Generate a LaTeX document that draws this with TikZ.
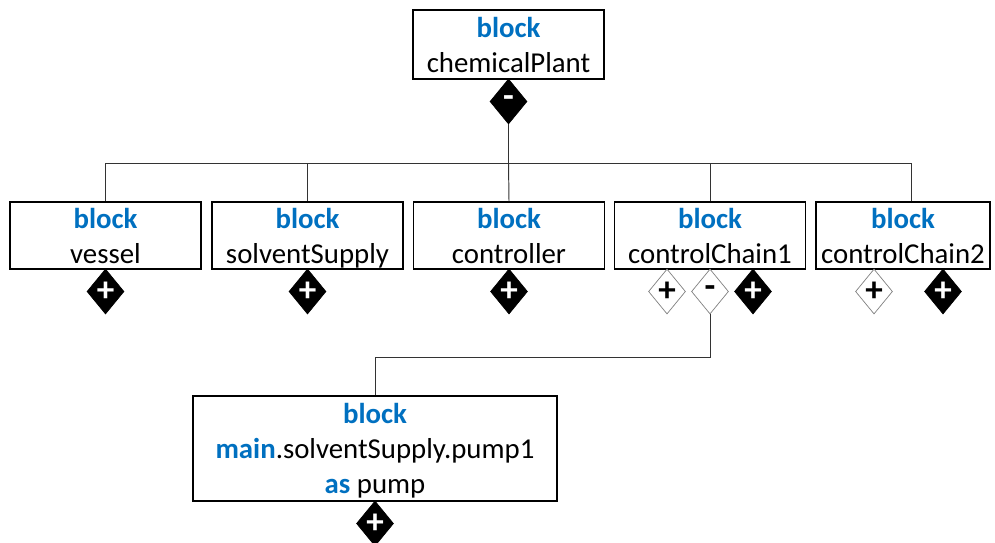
\documentclass[tikz,border=0pt]{standalone}
\usepackage{fontspec}
\setmainfont{Carlito}
\usetikzlibrary{shapes.geometric}
\definecolor{kwblue}{RGB}{0,112,192}
\newcommand{\kw}[1]{\textcolor{kwblue}{\textbf{#1}}}

\begin{document}
\begin{tikzpicture}[
    blk/.style={draw=black, line width=0.8pt, align=center, inner sep=0pt, text depth=0pt,
        font=\fontsize{16.4}{19.9}\selectfont},
    compfill/.style={diamond, draw=black, fill=black, text=white, inner sep=0pt,
        minimum width=0.74cm, minimum height=0.9cm, font=\fontsize{20}{20}\bfseries\selectfont},
    compopen/.style={diamond, draw=gray, fill=white, text=black, inner sep=0pt,
        minimum width=0.74cm, minimum height=0.9cm, font=\fontsize{20}{20}\bfseries\selectfont},
    conn/.style={draw=black!80, line width=0.55pt}]
        \useasboundingbox (0,0) rectangle (19.9,-10.84);

        \node[blk, minimum width=3.82cm, minimum height=1.38cm] (A) at (10.17,-0.89) {\kw{block}\\chemicalPlant};
        \node[blk, minimum width=3.82cm, minimum height=1.34cm] (B) at (2.11,-4.71) {\kw{block}\\vessel};
        \node[blk, minimum width=3.82cm, minimum height=1.34cm] (C) at (6.15,-4.71) {\kw{block}\\solventSupply};
        \node[blk, minimum width=3.82cm, minimum height=1.34cm] (D) at (10.18,-4.71) {\kw{block}\\controller};
        \node[blk, minimum width=3.82cm, minimum height=1.34cm] (E) at (14.20,-4.71) {\kw{block}\\controlChain1};
        \node[blk, minimum width=3.48cm, minimum height=1.34cm] (F) at (18.06,-4.71) {\kw{block}\\controlChain2};
        \node[blk, minimum width=7.28cm, minimum height=2.1cm] (G) at (7.5,-8.97) {\kw{block}\\\kw{main}.solventSupply.pump1\\\kw{as} pump};

        % part markers
        \node[compfill] (A1) at (10.17,-2.03) {-};
        \node[compfill] (B1) at (2.11,-5.83) {+};
        \node[compfill] (C1) at (6.15,-5.83) {+};
        \node[compfill] (D1) at (10.18,-5.83) {+};
        \node[compopen] (E1) at (13.34,-5.83) {+};
        \node[compopen] (E2) at (14.20,-5.83) {-};
        \node[compfill] (E3) at (15.06,-5.83) {+};
        \node[compopen] (F1) at (17.48,-5.83) {+};
        \node[compfill] (F2) at (18.86,-5.83) {+};
        \node[compfill] (G1) at (7.5,-10.47) {+};

        % tree of chemicalPlant
        \coordinate (bus) at (10.17,-3.26);
        \path[conn] (A1.south) -- (bus);
        \path[conn] (bus) -| (B.north);
        \path[conn] (bus) -| (C.north);
        \path[conn] (bus) -- (D.north);
        \path[conn] (bus) -| (E.north);
        \path[conn] (bus) -| ([xshift=0.17cm]F.north);

        % controlChain1 to pump
        \path[conn] (E2.south) -- ++(0,-0.86) -| (G.north);
    \end{tikzpicture}
\end{document}
